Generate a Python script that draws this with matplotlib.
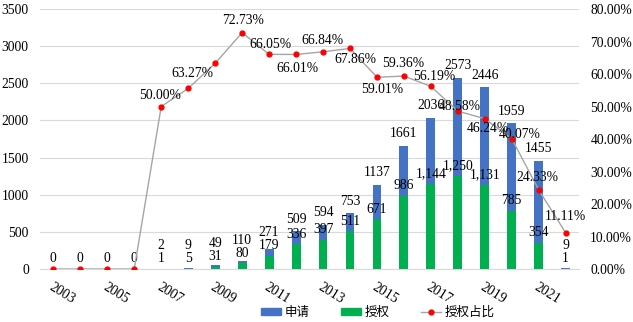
import matplotlib
matplotlib.use("Agg")
import matplotlib.pyplot as plt
from matplotlib.patches import Patch
from matplotlib.lines import Line2D
import numpy as np

plt.rcParams['font.family'] = ['Liberation Serif', 'Noto Sans CJK SC', 'DejaVu Sans']

years = list(range(2003, 2023))
applied = [0, 0, 0, 0, 2, 9, 49, 110, 271, 509, 594, 753, 1137, 1661, 2036, 2573, 2446, 1959, 1455, 9]
granted = [0, 0, 0, 0, 1, 5, 31, 80, 179, 336, 397, 511, 671, 986, 1144, 1250, 1131, 785, 354, 1]
ratio = [0.0, 0.0, 0.0, 0.0, 50.00, 55.56, 63.27, 72.73, 66.05, 66.01, 66.84, 67.86,
         59.01, 59.36, 56.19, 48.58, 46.24, 40.07, 24.33, 11.11]
ratio_labels = [None, None, None, None, "50.00%", None, "63.27%", "72.73%", "66.05%", "66.01%",
                "66.84%", "67.86%", "59.01%", "59.36%", "56.19%", "48.58%", "46.24%", "40.07%",
                "24.33%", "11.11%"]
# label offsets in pixels (dx, dy) for ratio labels
ratio_off = [(0, 0)] * 4 + [(-1, 11), (0, 0), (-23, -10), (1, 12), (1, 10), (1, -14), (-1, 11),
                            (5, -11), (5, -12), (-1, 13), (3, 10), (2, 5), (3, -10), (8, 4),
                            (-1, 12), (0, 16)]

BLUE = '#4472C4'
GREEN = '#00B050'
FS = 9.8

fig = plt.figure(figsize=(6.33, 3.22), dpi=100)
ax = fig.add_axes([0.063, 0.1646, 0.852, 0.8074])
ax2 = ax.twinx()

x = np.arange(len(years))
ax.bar(x, applied, width=0.33, color=BLUE, zorder=2)
ax.bar(x, granted, width=0.33, color=GREEN, zorder=3)

ax.set_xlim(-0.5, len(years) - 0.5)
ax.set_ylim(0, 3500)
ax.set_yticks(range(0, 3501, 500))
ax.yaxis.grid(True, color='#D9D9D9', lw=0.8, zorder=0)
ax.set_axisbelow(True)
for s in ['top', 'left', 'right']:
    ax.spines[s].set_visible(False)
    ax2.spines[s].set_visible(False)
ax.spines['bottom'].set_color('#D9D9D9')
ax2.spines['bottom'].set_visible(False)
ax.tick_params(axis='both', length=0, labelsize=FS)
ax.tick_params(axis='y', pad=8)
ax.set_xticks(x[::2])
ax.set_xticklabels([str(y) for y in years[::2]], rotation=-32, ha='left', va='top',
                   rotation_mode='anchor', fontsize=10)
ax.tick_params(axis='x', pad=8)

ax2.set_ylim(0, 80)
ax2.set_yticks(range(0, 81, 10))
ax2.set_yticklabels([f"{v:.2f}%" for v in range(0, 81, 10)])
ax2.tick_params(axis='y', length=0, labelsize=FS, pad=8)
ax2.plot(x, ratio, color='#A5A5A5', lw=1, marker='o', ms=3.5, mfc='#FF0000', mec='#FF0000', zorder=5)

# px per data unit
ax_h_px = 0.8074 * 322
px_per_app = ax_h_px / 3500

def fmt(v):
    return f"{v:,}"

for i in x:
    a, g = applied[i], granted[i]
    g_dy = 10
    a_dy = max(12, (g - a) * px_per_app + 23)
    if a == 0:
        ax.annotate("0", (i, 0), xytext=(0, 10), textcoords='offset pixels',
                    ha='center', va='center', fontsize=FS, zorder=6)
        continue
    ax.annotate(str(a), (i, a), xytext=(0, a_dy), textcoords='offset pixels',
                ha='center', va='center', fontsize=FS, zorder=6)
    ax.annotate(fmt(g), (i, g), xytext=(0, g_dy), textcoords='offset pixels',
                ha='center', va='center', fontsize=FS, zorder=6)

for i in x:
    if ratio_labels[i] is None:
        continue
    dx, dy = ratio_off[i]
    ax2.annotate(ratio_labels[i], (i, ratio[i]), xytext=(dx, dy), textcoords='offset pixels',
                 ha='center', va='center', fontsize=FS, zorder=7)

handles = [Patch(color=BLUE), Patch(color=GREEN),
           Line2D([0], [0], color='#A5A5A5', lw=1, marker='o', ms=3.5, mfc='#FF0000', mec='#FF0000')]
fig.legend(handles, ['申请', '授权', '授权占比'], loc='center', bbox_to_anchor=(0.597, 0.03),
           ncol=3, frameon=False, handlelength=1.6, handleheight=0.5,
           columnspacing=2.5, handletextpad=0.3, prop={'family': ['Noto Sans CJK SC'], 'size': 9})

fig.savefig("out.png", dpi=100)
